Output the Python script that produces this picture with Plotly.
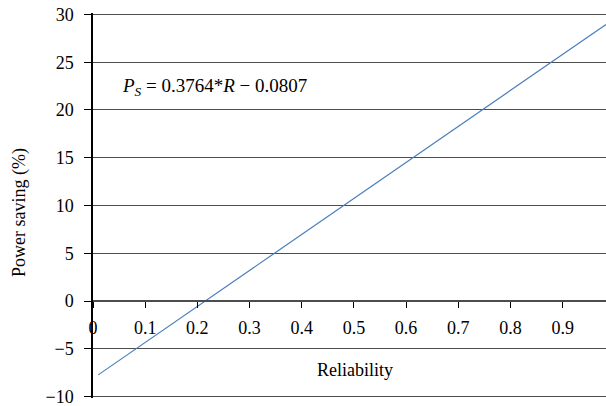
import plotly.graph_objects as go

# Data
reliability = [0.01, 0.983]
power_saving = [-7.73, 28.95]
x_ticks = [0, 0.1, 0.2, 0.3, 0.4, 0.5, 0.6, 0.7, 0.8, 0.9]
x_tick_labels = ["0", "0.1", "0.2", "0.3", "0.4", "0.5", "0.6", "0.7", "0.8", "0.9"]
y_ticks = [-10, -5, 0, 5, 10, 15, 20, 25, 30]

FONT = "Liberation Serif"
FS = 18
PAD = 0.15  # tiny range padding so the edge gridlines at 30 and -10 are drawn

fig = go.Figure()
fig.add_trace(go.Scatter(
    x=reliability, y=power_saving, mode="lines",
    line=dict(color="#4a7ebb", width=1.2),
    showlegend=False, hoverinfo="skip",
))

H_PLOT = 385
fig.update_layout(
    width=606, height=406,
    margin=dict(l=93, r=0, t=13, b=406 - 13 - H_PLOT),
    paper_bgcolor="white", plot_bgcolor="white",
    font=dict(family=FONT, size=FS, color="black"),
    xaxis=dict(
        range=[0, 0.983],
        tickvals=x_ticks, ticktext=x_tick_labels,
        showgrid=False, zeroline=False,
        showline=True, linecolor="#4d4d4d", linewidth=1.5,
        ticks="outside", ticklen=6, tickcolor="black", tickwidth=1,
        anchor="free", position=(10 + PAD) / (40 + 2 * PAD),
        ticklabelstandoff=5,
        tickfont=dict(family=FONT, size=FS),
    ),
    yaxis=dict(
        range=[-10 - PAD, 30 + PAD],
        tickvals=y_ticks,
        showgrid=True, gridcolor="#4d4d4d", gridwidth=1.3,
        zeroline=False,
        showline=True, linecolor="black", linewidth=1.5,
        ticks="outside", ticklen=7, tickcolor="black", tickwidth=1,
        ticklabelstandoff=7, ticklabeloverflow="allow",
        tickfont=dict(family=FONT, size=FS),
    ),
    annotations=[
        dict(text="Reliability", x=(355 - 93) / 513, xref="paper",
             y=(398 - 370) / H_PLOT, yref="paper", xanchor="center", yanchor="middle",
             showarrow=False, font=dict(family=FONT, size=FS)),
        dict(text="Power saving (%)", textangle=-90,
             x=-(93 - 20) / 513, xref="paper", y=(398 - 213) / H_PLOT, yref="paper",
             xanchor="center", yanchor="middle",
             showarrow=False, font=dict(family=FONT, size=FS)),
        dict(text="<i>P</i><sub><i>S</i></sub> = 0.3764*<i>R</i> − 0.0807",
             x=(120 - 93) / 513, xref="paper", y=(398 - 87) / H_PLOT, yref="paper",
             xanchor="left", yanchor="middle", showarrow=False,
             font=dict(family=FONT, size=19)),
    ],
)

# remove the default 8px page margin so the 606x406 figure fills the window exactly
fig.write_html("out.html", config={"displayModeBar": False},
               post_script="document.body.style.margin='0px';")
